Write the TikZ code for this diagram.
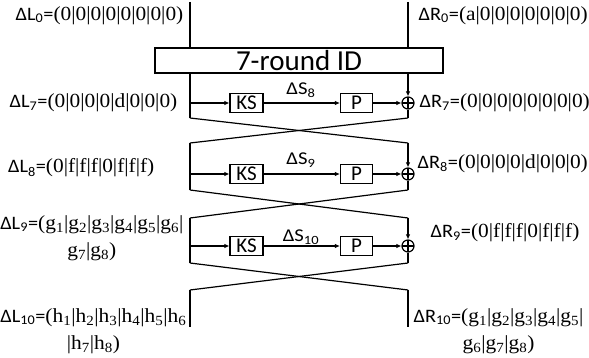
\documentclass[tikz,border=0pt]{standalone}
\usepackage{fontspec}
\setmainfont{Liberation Serif}
\setsansfont{Carlito}
\usetikzlibrary{arrows.meta}

\newcommand{\gsub}[1]{g\textsubscript{#1}}
\newcommand{\hsub}[1]{h\textsubscript{#1}}
\newcommand{\dL}[1]{\textsf{\fontsize{19}{20}\selectfont ΔL\textsubscript{#1}=}}
\newcommand{\dR}[1]{\textsf{\fontsize{19}{20}\selectfont ΔR\textsubscript{#1}=}}

\tikzset{
  box/.style={draw, inner sep=0pt, minimum width=33pt, minimum height=19pt},
  boxtext/.style={font=\sffamily\fontsize{21}{22}\selectfont},
  xor/.style={draw, circle, minimum size=12pt, inner sep=0pt,
    path picture={\draw (path picture bounding box.north) -- (path picture bounding box.south)
      (path picture bounding box.west) -- (path picture bounding box.east);}},
  lbl/.style={font=\fontsize{20}{27}\selectfont, inner sep=0pt, xscale=1.07, align=center},
  dslbl/.style={font=\sffamily\fontsize{18}{20}\selectfont, inner sep=0pt, xscale=1.15, anchor=base},
  flow/.style={-{Latex[length=5pt,width=4.5pt]}},
}

\begin{document}
\begin{tikzpicture}[x=1pt,y=-1pt,line width=1.2pt]
  \useasboundingbox (0,0) rectangle (589,358);
  % the 7 rounds in one block
  \node[draw, minimum width=288pt, minimum height=25pt, inner sep=0pt,
        font=\sffamily\fontsize{29}{30}\selectfont] (id) at (299,60.5) {7-round ID};
  \coordinate (l0) at (190,2);
  \coordinate (r0) at (408,2);
  \draw (l0) -- (l0 |- id.north);
  \draw (r0) -- (r0 |- id.north);

  % rounds 8, 9, 10
  \foreach \i/\y/\t/\b/\sy in {1/103/73/118/95, 2/174/143/190/165, 3/246/218/263/242} {
    \pgfmathtruncatemacro{\s}{\i+7}
    \node[box] (ks\i) at (246.5,\y) {};
    \node[boxtext] at (ks\i) {KS};
    \node[box, minimum width=32pt] (p\i) at (356.5,\y) {};
    \node[boxtext] at (p\i) {P};
    \node[xor] (xor\i) at (408,\y) {};
    \coordinate (lt\i) at (190,\t);
    \coordinate (lb\i) at (190,\b);
    \coordinate (rt\i) at (408,\t);
    \coordinate (rb\i) at (408,\b);
    \draw (lt\i) -- (lb\i);
    \draw[flow] (lt\i |- ks\i) -- (ks\i);
    \draw[flow] (ks\i) -- (p\i);
    \draw[flow] (p\i) -- (xor\i);
    \draw[flow] (rt\i) -- (xor\i);
    \draw (xor\i) -- (rb\i);
    \node[dslbl] (ds\i) at (301,\sy) {ΔS\textsubscript{\s}};
  }

  % swaps between the rounds
  \coordinate (lt4) at (190,290);
  \coordinate (rt4) at (408,290);
  \coordinate (lend) at (190,327);
  \coordinate (rend) at (408,327);
  \foreach \i/\j in {1/2,2/3,3/4} {
    \draw (lb\i) -- (rt\j);
    \draw (rb\i) -- (lt\j);
  }
  \draw (lt4) -- (lend);
  \draw (rt4) -- (rend);

  % differences
  \node[lbl, anchor=east] (dl0) at (184,15.5) {\dL{0}(0|0|0|0|0|0|0|0)};
  \node[lbl, anchor=west] (dr0) at (418,15.5) {\dR{0}(a|0|0|0|0|0|0|0)};
  \node[lbl, anchor=east] (dl7) at (178,103) {\dL{7}(0|0|0|0|d|0|0|0)};
  \node[lbl, anchor=west] (dr7) at (419,103) {\dR{7}(0|0|0|0|0|0|0|0)};
  \node[lbl, anchor=east] (dl8) at (155,168) {\dL{8}(0|f|f|f|0|f|f|f)};
  \node[lbl, anchor=west] (dr8) at (417,164) {\dR{8}(0|0|0|0|d|0|0|0)};
  \node[lbl, anchor=east] (dl9) at (184,238)
    {\dL{9}(\gsub{1}|\gsub{2}|\gsub{3}|\gsub{4}|\gsub{5}|\gsub{6}|\\ \gsub{7}|\gsub{8})};
  \node[lbl, anchor=west] (dr9) at (430,233) {\dR{9}(0|f|f|f|0|f|f|f)};
  \node[lbl, anchor=east] (dl10) at (187,331)
    {\dL{10}(\hsub{1}|\hsub{2}|\hsub{3}|\hsub{4}|\hsub{5}|\hsub{6}\\ |\hsub{7}|\hsub{8})};
  \node[lbl, anchor=west] (dr10) at (413,331)
    {\dR{10}(\gsub{1}|\gsub{2}|\gsub{3}|\gsub{4}|\gsub{5}|\\ \gsub{6}|\gsub{7}|\gsub{8})};
\end{tikzpicture}
\end{document}
